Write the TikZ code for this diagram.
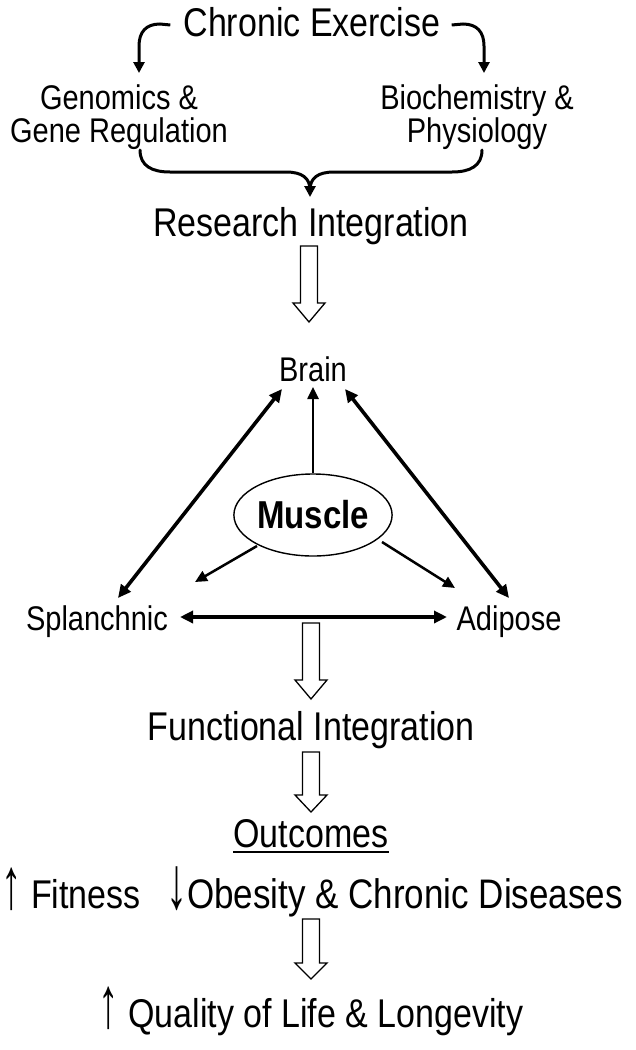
\documentclass[tikz,border=0pt]{standalone}
\usepackage{fontspec}
\setmainfont{Liberation Sans}
\usetikzlibrary{arrows.meta,shapes.geometric}
\newcommand{\tall}[1]{\scalebox{1}[1.18]{#1}}
\newcommand{\uparr}{\scalebox{1.2}[1.8]{↑}}
\newcommand{\dnarr}{\scalebox{1.2}[1.8]{↓}}
\newcommand{\hollowarr}[4]{%
  \draw[hollow] (#1-8.5,#2) -- (#1+8.5,#2) -- (#1+8.5,#3) -- (#1+16,#3) -- (#1,#4)
    -- (#1-16,#3) -- (#1-8.5,#3) -- cycle;}
\begin{document}
\begin{tikzpicture}[x=1pt,y=-1pt,
  big/.style={font=\fontsize{34}{40}\selectfont, inner sep=0pt, anchor=base},
  mid/.style={font=\fontsize{29}{34}\selectfont, inner sep=0pt, anchor=base},
  curly/.style={line width=3pt, -{Triangle[length=11pt,width=11pt]}},
  plainline/.style={line width=3pt},
  dbl/.style={line width=3.6pt, {Triangle[length=13pt,width=12pt]}-{Triangle[length=13pt,width=12pt]}},
  sgl/.style={line width=2.5pt, -{Triangle[length=12pt,width=11pt]}},
  hollow/.style={line width=1.3pt, fill=white, line join=miter}]
\useasboundingbox (0,0) rectangle (636,1050);

% texts
\node[big] (ce) at (312,36) {\tall{Chronic Exercise}};
\node[mid] (gen1) at (119,109) {\tall{Genomics \&}};
\node[mid] (gen2) at (119,142) {\tall{Gene Regulation}};
\node[mid] (bio1) at (477,109) {\tall{Biochemistry \&}};
\node[mid] (bio2) at (477,142) {\tall{Physiology}};
\node[big] (ri) at (311,236) {\tall{Research Integration}};
\node[mid] (brain) at (313,381) {\tall{Brain}};
\node[draw, ellipse, line width=1.4pt, minimum width=158pt, minimum height=82pt, inner sep=0pt,
      font=\fontsize{33}{38}\selectfont\bfseries] (mus) at (313,515) {\tall{Muscle}};
\node[mid] (spl) at (97,630) {\tall{Splanchnic}};
\node[mid] (adi) at (509,630) {\tall{Adipose}};
\node[big] (fi) at (311,740) {\tall{Functional Integration}};
\node[big] (oc) at (311,847) {\tall{Outcomes}};
\node[big, anchor=base west] (fit) at (1,908) {\tall{\uparr\ Fitness}};
\node[big, anchor=base east, font=\fontsize{35}{40}\selectfont] (obe) at (623,908) {\tall{\dnarr Obesity \& Chronic Diseases}};
\node[big] (ql) at (311,1027) {\tall{\uparr\ Quality of Life \& Longevity}};

% underline
\draw[line width=1.8pt] ([yshift=-5pt]oc.base west) -- ([yshift=-5pt]oc.base east);

% top curly arrows
\coordinate (cl) at (139,73);
\coordinate (cr) at (484,73);
\draw[curly] ([xshift=-13pt,yshift=11pt]ce.base west) -- (160,24) .. controls (146,24) and (139,32) .. (139,46) -- (cl);
\draw[curly] ([xshift=11pt,yshift=11pt]ce.base east) -- (463,24) .. controls (477,24) and (484,32) .. (484,46) -- (cr);

% brace
\coordinate (bl) at (140,150);
\coordinate (br) at (482,150);
\coordinate (bt) at (310,197);
\draw[plainline, line cap=round] (bl) .. controls (140,166) and (152,172) .. (170,172) -- (286,172)
   .. controls (302,172) and (310,178) .. (310,190);
\draw[plainline, line cap=round] (br) .. controls (482,166) and (470,172) .. (452,172) -- (334,172)
   .. controls (318,172) and (310,178) .. (310,190);
\draw[curly] (310,188) -- (bt);

% triangle connectors
\coordinate (sb1) at (118,598);
\coordinate (sb2) at (282,389);
\coordinate (ab1) at (509,598);
\coordinate (ab2) at (345,389);
\coordinate (mb) at (313,387);
\coordinate (ms1) at (257,546);
\coordinate (ms2) at (195,582);
\coordinate (ma1) at (382,542);
\coordinate (ma2) at (455,588);
\coordinate (sa1) at (180,617);
\coordinate (sa2) at (447,617);
\draw[dbl] (sb1) -- (sb2);
\draw[dbl] (ab1) -- (ab2);
\draw[dbl] (sa1) -- (sa2);
\draw[sgl] (mus.north) -- (mb);
\draw[sgl] (ms1) -- (ms2);
\draw[sgl] (ma1) -- (ma2);

% hollow arrows
\hollowarr{309}{246}{303}{322}
\hollowarr{311}{623}{680}{699}
\hollowarr{311}{752}{795}{812}
\hollowarr{311}{919}{963}{979}
\end{tikzpicture}
\end{document}
